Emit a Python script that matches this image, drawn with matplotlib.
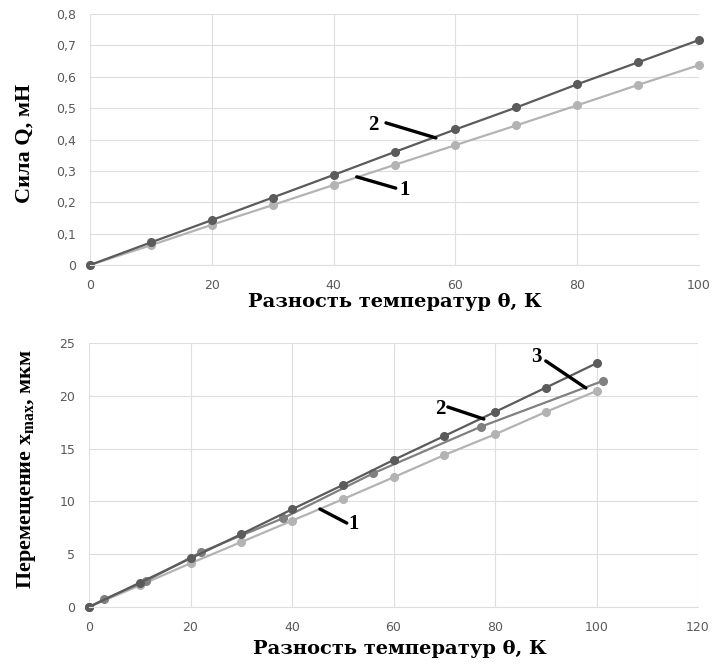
import matplotlib.pyplot as plt
import matplotlib.ticker as mticker

# top chart: force Q vs temperature difference
theta = [0, 10, 20, 30, 40, 50, 60, 70, 80, 90, 100]
q_curve1 = [0, 0.063, 0.128, 0.191, 0.255, 0.319, 0.382, 0.445, 0.509, 0.574, 0.637]
q_curve2 = [0, 0.072, 0.143, 0.215, 0.287, 0.360, 0.432, 0.502, 0.576, 0.646, 0.717]

# bottom chart: displacement x_max vs temperature difference
x_curve1 = [0, 2.05, 4.14, 6.15, 8.17, 10.2, 12.28, 14.39, 16.35, 18.47, 20.45]
x_curve2 = [0, 2.3, 4.6, 6.9, 9.25, 11.55, 13.92, 16.19, 18.47, 20.77, 23.08]
theta3 = [0, 3, 11.2, 22, 38.2, 56, 77.2, 101.2]
x_curve3 = [0, 0.73, 2.46, 5.18, 8.4, 12.66, 17.07, 21.4]

top_yticks = [0, 0.1, 0.2, 0.3, 0.4, 0.5, 0.6, 0.7, 0.8]
top_xticks = [0, 20, 40, 60, 80, 100]
bot_yticks = [0, 5, 10, 15, 20, 25]
bot_xticks = [0, 20, 40, 60, 80, 100, 120]

xlabel_txt = "Разность температур θ, К"
ylabel_top = "Сила Q, мН"
ylabel_bot = "Перемещение x$_{\\mathregular{max}}$, мкм"

DARK = "#5b5b5b"
MID = "#808080"
LIGHT = "#b3b3b3"
GRID = "#dedede"
TICK = "#595959"

fig = plt.figure(figsize=(7.14, 6.66), dpi=100)
ax1 = fig.add_axes([90 / 714, 1 - 265 / 666, 609 / 714, 251 / 666])
ax2 = fig.add_axes([89 / 714, 1 - 607 / 666, 609 / 714, 264 / 666])


def comma(v, pos):
    s = ("%g" % v).replace(".", ",")
    return s


def style(ax, xt, yt):
    ax.set_xlim(xt[0], xt[-1])
    ax.set_ylim(yt[0], yt[-1])
    ax.set_xticks(xt)
    ax.set_yticks(yt)
    ax.yaxis.set_major_formatter(mticker.FuncFormatter(comma))
    ax.grid(True, color=GRID, lw=0.8)
    ax.set_axisbelow(True)
    for s in ["top", "right", "left"]:
        ax.spines[s].set_visible(False)
    ax.spines["bottom"].set_color(GRID)
    ax.spines["bottom"].set_linewidth(0.8)
    ax.tick_params(length=0, labelsize=9, labelcolor=TICK, pad=10)
    for lab in ax.get_xticklabels() + ax.get_yticklabels():
        lab.set_family("DejaVu Sans")


style(ax1, top_xticks, top_yticks)
style(ax2, bot_xticks, bot_yticks)

mk = dict(marker="o", ms=5.5, lw=1.6, clip_on=False)
ax1.plot(theta, q_curve1, color=LIGHT, **mk)
ax1.plot(theta, q_curve2, color=DARK, **mk)

ax2.plot(theta, x_curve1, color=LIGHT, **mk)
ax2.plot(theta3, x_curve3, color=MID, **mk)
ax2.plot(theta, x_curve2, color=DARK, **mk)

num = dict(fontsize=15, fontweight="bold", family="Liberation Serif",
           ha="center", va="center")
lead = dict(arrowstyle="-", lw=2.4, color="black", shrinkA=0, shrinkB=0)

# labels with leader lines
ax1.text(46.5, 0.446, "2", **num)
ax1.annotate("", xy=(56.8, 0.405), xytext=(48.6, 0.453), arrowprops=lead)
ax1.text(51.6, 0.239, "1", **num)
ax1.annotate("", xy=(50.2, 0.245), xytext=(43.8, 0.281), arrowprops=lead)

ax2.text(52.2, 7.9, "1", **num)
ax2.annotate("", xy=(50.8, 7.95), xytext=(45.5, 9.28), arrowprops=lead)
ax2.text(69.2, 18.75, "2", **num)
ax2.annotate("", xy=(77.8, 17.8), xytext=(70.7, 18.94), arrowprops=lead)
ax2.text(88.1, 23.67, "3", **num)
ax2.annotate("", xy=(97.9, 20.74), xytext=(90.0, 23.3), arrowprops=lead)

xl = dict(fontsize=14, fontweight="bold", family="DejaVu Serif",
          ha="center", va="center")
yl = dict(fontsize=16, fontweight="bold", family="Liberation Serif",
          ha="center", va="center", rotation=90)
fig.text(395 / 714, 1 - 302 / 666, xlabel_txt, **xl)
fig.text(400 / 714, 1 - 649 / 666, xlabel_txt, **xl)
fig.text(25 / 714, 1 - 143 / 666, ylabel_top, **yl)
fig.text(27 / 714, 1 - 469 / 666, ylabel_bot, **yl)

fig.savefig("out.png", dpi=100)
